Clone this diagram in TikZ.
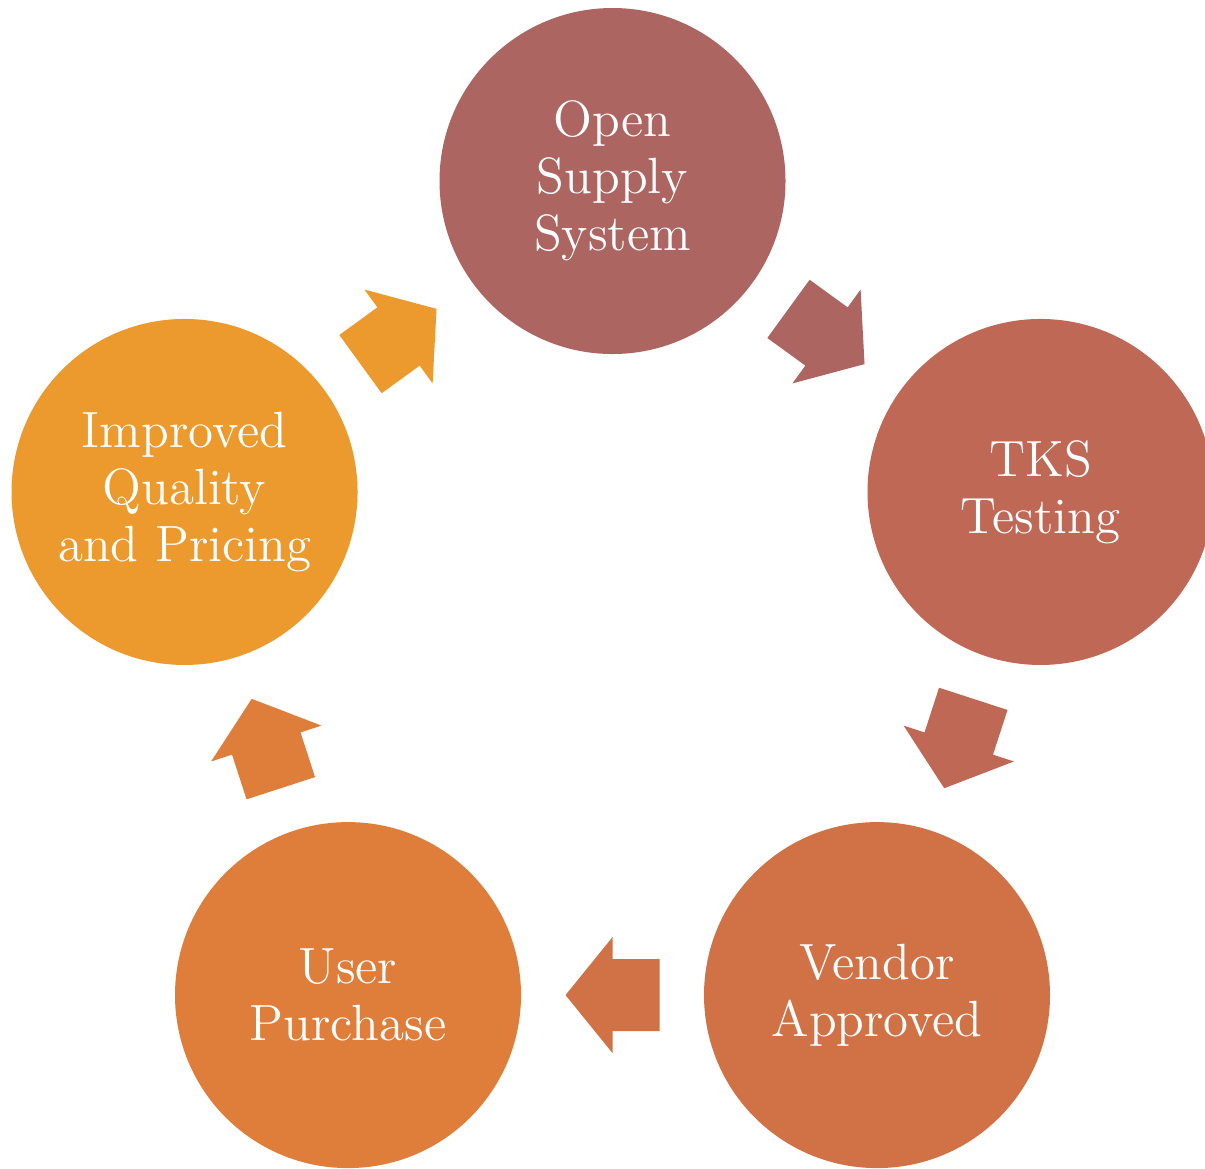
\documentclass[tikz,border=0pt]{standalone}
\usetikzlibrary{calc}
\definecolor{cA}{HTML}{AD6562}
\definecolor{cB}{HTML}{BF6856}
\definecolor{cC}{HTML}{D07246}
\definecolor{cD}{HTML}{DE7E3A}
\definecolor{cE}{HTML}{EC992D}
\begin{document}
\begin{tikzpicture}
\tikzset{
  stage/.style={circle, minimum size=3.46cm, inner sep=0pt, text=white, align=center,
    font=\fontsize{14.5}{16.2}\selectfont},
  cyclearrow/.pic={\fill[pic actions] (-0.47,-0.36) -- (0,-0.36) -- (0,-0.58) -- (0.47,0) -- (0,0.58) -- (0,0.36) -- (-0.47,0.36) -- cycle;}
}
\clip (0,0) rectangle (12.05,-11.68);
\fill[white] (0,0) rectangle (12.05,-11.68);
\coordinate (O) at (6.125,-6.31);
\node[stage, fill=cA] (open) at ($(O)+(90:4.5)$) {Open\\Supply\\System};
\node[stage, fill=cB] (tks) at ($(O)+(18:4.5)$) {TKS\\Testing};
\node[stage, fill=cC] (vendor) at ($(O)+(-54:4.5)$) {Vendor\\Approved};
\node[stage, fill=cD] (user) at ($(O)+(-126:4.5)$) {User\\Purchase};
\node[stage, fill=cE] (impr) at ($(O)+(162:4.5)$) {Improved\\Quality\\and Pricing};
\pic[fill=cA, rotate=-36] at ($(open)!0.5!(tks)$) {cyclearrow};
\pic[fill=cB, rotate=-108] at ($(tks)!0.5!(vendor)$) {cyclearrow};
\pic[fill=cC, rotate=180] at ($(vendor)!0.5!(user)$) {cyclearrow};
\pic[fill=cD, rotate=108] at ($(user)!0.5!(impr)$) {cyclearrow};
\pic[fill=cE, rotate=36] at ($(impr)!0.5!(open)$) {cyclearrow};
\end{tikzpicture}
\end{document}
